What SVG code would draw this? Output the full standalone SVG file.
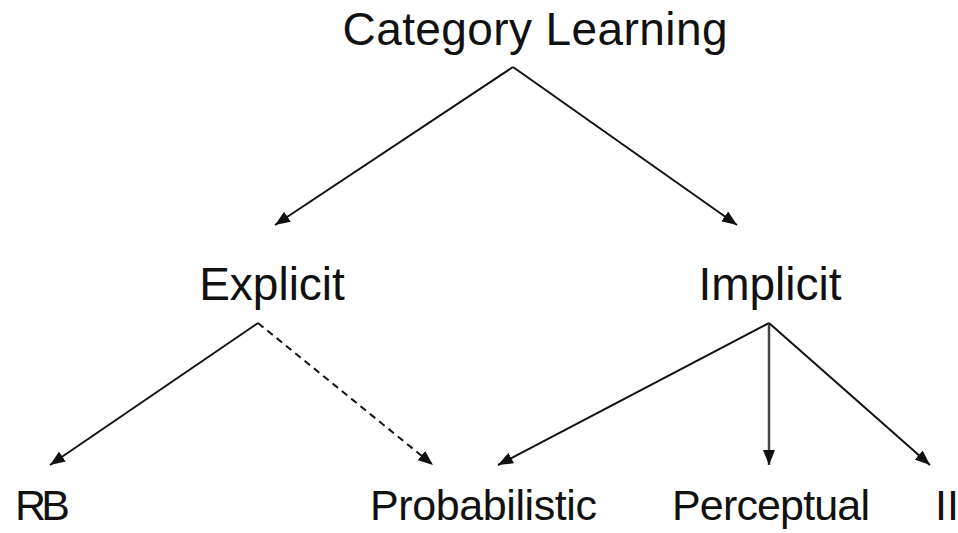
<svg xmlns="http://www.w3.org/2000/svg" width="958" height="533" viewBox="0 0 958 533">
<style>
  .lbl { font-family: "Liberation Sans", Arial, sans-serif; fill: #111; }
  .top { font-size: 46px; }
  .bot { font-size: 43px; }
  .edge { stroke: #111; stroke-width: 2; fill: none; marker-end: url(#ah); }
  .dash { stroke-dasharray: 7 5; }
</style>
<defs>
  <marker id="ah" markerUnits="userSpaceOnUse" markerWidth="16" markerHeight="12" refX="15" refY="6" orient="auto">
    <path d="M0,0 L15,6 L0,12 z" fill="#111"/>
  </marker>
</defs>
<g id="connectors">
  <line class="edge" x1="513" y1="67" x2="275" y2="225"/>
  <line class="edge" x1="513" y1="67" x2="737" y2="225"/>
  <line class="edge" x1="258" y1="323" x2="50" y2="465"/>
  <line class="edge dash" x1="258" y1="323" x2="433" y2="465"/>
  <line class="edge" x1="769" y1="323" x2="498" y2="465"/>
  <line class="edge" x1="769" y1="323" x2="769" y2="465" style="stroke:#444;stroke-width:2.5"/>
  <line class="edge" x1="769" y1="323" x2="930" y2="465"/>
</g>
<g id="category-learning"><text class="lbl top" x="535" y="45" text-anchor="middle" textLength="385">Category Learning</text></g>
<g id="explicit"><text class="lbl top" x="272" y="300" text-anchor="middle">Explicit</text></g>
<g id="implicit"><text class="lbl top" x="770" y="300" text-anchor="middle">Implicit</text></g>
<g id="rb"><text class="lbl bot" x="15" y="520" textLength="55">RB</text></g>
<g id="probabilistic"><text class="lbl bot" x="370" y="520" textLength="227">Probabilistic</text></g>
<g id="perceptual"><text class="lbl bot" x="672" y="520" textLength="198">Perceptual</text></g>
<g id="ii"><text class="lbl bot" x="935" y="520">II</text></g>
</svg>
